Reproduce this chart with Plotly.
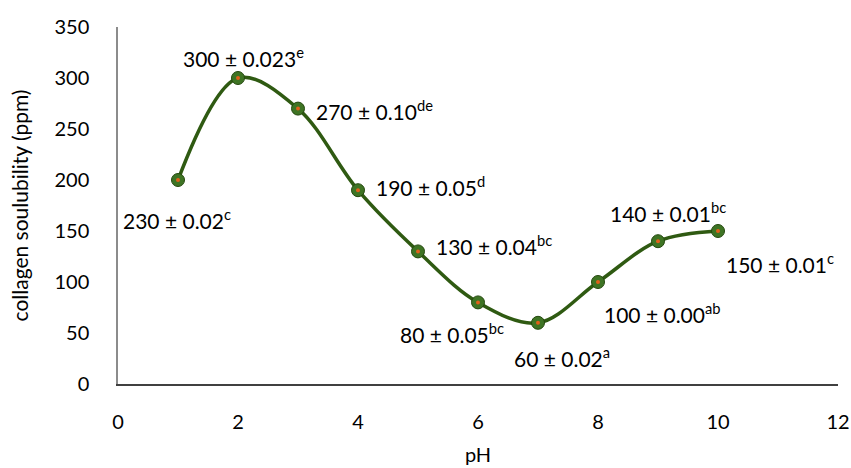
import plotly.graph_objects as go

ph = [1, 2, 3, 4, 5, 6, 7, 8, 9, 10]
solubility = [200, 300, 270, 190, 130, 80, 60, 100, 140, 150]
labels = ["230 ± 0.02<sup>c</sup>", "300 ± 0.023<sup>e</sup>", "270 ± 0.10<sup>de</sup>",
          "190 ± 0.05<sup>d</sup>", "130 ± 0.04<sup>bc</sup>", "80 ± 0.05<sup>bc</sup>",
          "60 ± 0.02<sup>a</sup>", "100 ± 0.00<sup>ab</sup>", "140 ± 0.01<sup>bc</sup>",
          "150 ± 0.01<sup>c</sup>"]
x_ticks = [0, 2, 4, 6, 8, 10, 12]
y_ticks = [0, 50, 100, 150, 200, 250, 300, 350]

# label placement (pixel offsets from each point, and anchor)
label_dx = [-1, 5, 16, 16, 16, -26, 24, 64, 10, 62]
label_dy = [-39, 21, -1, 4, 6, -31, -34, -31, 29, -32]
label_anchor = ["center", "center", "left", "left", "left", "center", "center", "center", "center", "center"]

FONT = "Lato"
fig = go.Figure()
fig.add_trace(go.Scatter(
    x=ph, y=solubility, mode="lines+markers",
    line=dict(shape="spline", smoothing=1.0, color="#2f5a12", width=3.5),
    marker=dict(size=13, color="#3e7424", line=dict(color="#24480e", width=1)),
    showlegend=False, hoverinfo="skip"))
fig.add_trace(go.Scatter(
    x=ph, y=solubility, mode="markers",
    marker=dict(size=4, color="#e0601a"),
    showlegend=False, hoverinfo="skip"))

for x, y, t, dx, dy, a in zip(ph, solubility, labels, label_dx, label_dy, label_anchor):
    fig.add_annotation(x=x, y=y, text=t, showarrow=False, xshift=dx, yshift=dy,
                       xanchor=a, yanchor="middle",
                       font=dict(family=FONT, size=21, color="#000000"))

fig.update_layout(
    width=851, height=468,
    margin=dict(l=118, r=13, t=27, b=84),
    paper_bgcolor="white", plot_bgcolor="white",
    font=dict(family=FONT, size=20, color="#000000"),
    xaxis=dict(range=[0, 12], tickvals=x_ticks, showgrid=False, zeroline=False,
               showline=True, linecolor="#404040", linewidth=1.5, ticks="",
               automargin=False, ticklabelstandoff=19, tickfont=dict(family=FONT, size=20),
               title=dict(text="pH", font=dict(family=FONT, size=20), standoff=16)),
    yaxis=dict(range=[0, 350], tickvals=y_ticks, showgrid=False,
               zeroline=False, showline=True, linecolor="#8c8c8c", linewidth=1.5, ticks="",
               automargin=False, ticklabelstandoff=23, tickfont=dict(family=FONT, size=20),
               title=dict(text="collagen soulubility (ppm)", font=dict(family=FONT, size=21), standoff=20)),
)
# remove the browser's default body margin so the figure fills the window exactly
fig.write_html("out.html", config={"displayModeBar": False},
               post_script="document.body.style.margin='0';document.body.style.overflow='hidden';")
